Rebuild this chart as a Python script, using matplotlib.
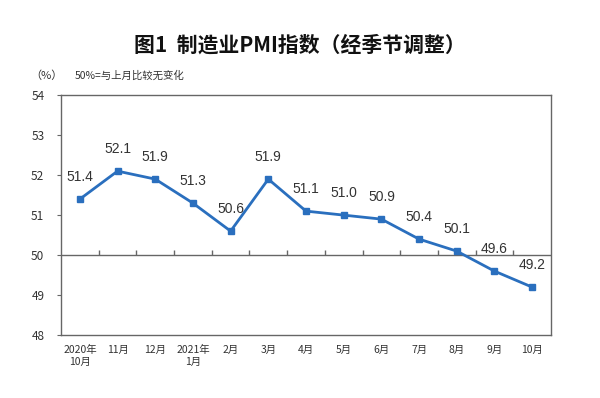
import matplotlib
matplotlib.use('Agg')
import matplotlib.pyplot as plt
import numpy as np

plt.rcParams['font.family'] = ['Noto Sans CJK SC', 'DejaVu Sans']

months = ['2020年\n10月', '11月', '12月', '2021年\n1月', '2月', '3月', '4月',
          '5月', '6月', '7月', '8月', '9月', '10月']
pmi = [51.4, 52.1, 51.9, 51.3, 50.6, 51.9, 51.1, 51.0, 50.9, 50.4, 50.1, 49.6, 49.2]
yticks = [48, 49, 50, 51, 52, 53, 54]

line_color = '#2a6fbe'
text_color = '#333333'
frame_color = '#666666'

fig = plt.figure(figsize=(6, 3.98), dpi=100)
ax = fig.add_axes([0.1017, 0.158, 0.8166, 0.603])

x = np.arange(len(months))
ax.plot(x, pmi, color=line_color, lw=2, marker='s', ms=4.5, zorder=3)

for xi, v in zip(x, pmi):
    ax.annotate(f'{v:.1f}', (xi, v), xytext=(0, 11), textcoords='offset points',
                ha='center', va='bottom', fontsize=10, color=text_color,
                family=['Liberation Sans', 'DejaVu Sans'], zorder=4)

# 50 reference line with category boundary ticks
ax.axhline(50, color=frame_color, lw=1, zorder=2)
bounds = x[:-1] + 0.5
ax.vlines(bounds, 50, 50.12, color=frame_color, lw=1, zorder=2)

ax.set_xlim(-0.5, len(months) - 0.5)
ax.set_ylim(48, 54)
ax.set_yticks(yticks)
ax.set_xticks(x)
ax.set_xticklabels(months, fontsize=7.5, color=text_color, linespacing=1.3)
ax.tick_params(axis='x', length=0, pad=7)
ax.tick_params(axis='y', length=3, width=0.8, color=frame_color,
               labelsize=8.5, labelcolor=text_color, pad=9)
for s in ax.spines.values():
    s.set_color(frame_color)
    s.set_linewidth(1)

fig.text(0.5, 0.887, '图1  制造业PMI指数（经季节调整）', ha='center', va='center',
         fontsize=15, fontweight='bold', color='#111111')
fig.text(0.077, 0.81, '（%）', ha='center', va='center', fontsize=8, color=text_color)
fig.text(0.125, 0.81, '50%=与上月比较无变化', ha='left', va='center', fontsize=7.5,
         color=text_color)

fig.savefig('out.png', dpi=100)
